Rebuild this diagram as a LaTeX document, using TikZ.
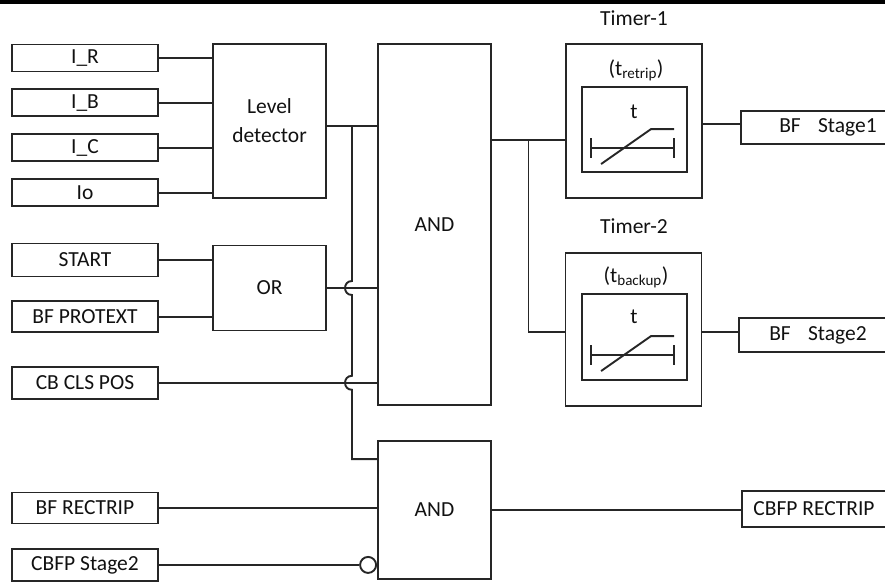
\documentclass[tikz,border=0pt]{standalone}
\usepackage{fontspec}
\setmainfont{Carlito}
\usetikzlibrary{positioning,calc}
\definecolor{bfink}{HTML}{111111}
\definecolor{bfline}{HTML}{262626}

\begin{document}
\begin{tikzpicture}[x=1pt,y=-1pt,
  node distance=16pt,
  every node/.style={font=\fontsize{21.5}{29}\selectfont,text=bfink},
  I/.style={draw=bfline,line width=1.9pt,minimum width=146pt,
            minimum height=#1,inner sep=0pt},
  I/.default=27pt,
  G/.style={draw=bfline,line width=1.9pt,minimum width=113pt,
            inner sep=0pt,align=center},
  T/.style={draw=bfline,line width=1.9pt,minimum width=136pt,
            minimum height=154pt,inner sep=0pt},
  Ti/.style={draw=bfline,line width=1.9pt,minimum width=105pt,
             minimum height=85pt,inner sep=0pt},
  O/.style={draw=bfline,line width=1.9pt,inner sep=0pt},
  ln/.style={line width=1.9pt,bfline}
]
\useasboundingbox (0,0) rectangle (885,581);
\clip (0,0) rectangle (885,581);
\fill[black] (0,0) rectangle (885,3.5);

% inputs
\node[I] (IR) at (85,58) {I\_R};
\node[I,below=of IR] (IB) {I\_B};
\node[I,below=of IB] (IC) {I\_C};
\node[I,below=of IC] (Io) {Io};
\node[I=33pt] (ST) at (85,260) {START};
\node[I=31pt,below=23pt of ST] (BFP) {BF PROTEXT};
\node[I=32pt,below=32.5pt of BFP] (CLS) {CB CLS POS};
\node[I=31pt] (BFR) at (85,508) {BF RECTRIP};
\node[I=32pt,below=23.5pt of BFR] (CB2) {CBFP Stage2};

% logic
\node[G,minimum height=154pt] (LD) at (269.5,121) {Level\\detector};
\node[G,minimum height=85pt] (OR) at (269.5,288) {OR};
\node[G,minimum height=361pt] (A1) at (434.5,224.5) {AND};
\node[G,minimum height=138pt] (A2) at (434.5,510) {AND};
\node[circle,draw=bfline,line width=1.9pt,minimum size=16pt,
      inner sep=0pt,anchor=east] (neg) at (A2.west |- CB2.east) {};

% timers
\node (T1n) at (634,18) {Timer-1};
\node[T] (T1) at (634,121) {};
\node (T1s) at (636,70) {(t\textsubscript{retrip})};
\node[Ti] (T1i) at (634.5,129.5) {};
\node (T1t) at (634,112) {t};
\node (T2n) at (634,226) {Timer-2};
\node[T,minimum height=153pt] (T2) at (633.5,329.5) {};
\node (T2s) at (636,277) {(t\textsubscript{backup})};
\node[Ti,minimum height=86pt] (T2i) at (634.5,337) {};
\node (T2t) at (634,317) {t};

% outputs
\node[O,minimum width=174pt,minimum height=33pt] (S1) at (828,127.5)
     {BF\hspace{0.8em}Stage1};
\node[O,minimum width=158pt,minimum height=34pt] (S2) at (818,335)
     {BF\hspace{0.8em}Stage2};
\node[O,minimum width=144pt,minimum height=36pt] (CR) at (814,509)
     {CBFP RECTRIP};

% timer curves
\foreach \b in {T1i,T2i}{
  \draw[ln] ($(\b.north west)+(10,52)$) -- +(0,20);
  \draw[ln] ($(\b.north west)+(93,52)$) -- +(0,20);
  \draw[ln] ($(\b.north west)+(10,62)$) -- +(83,0);
  \draw[ln] ($(\b.north west)+(20,78)$) -- ($(\b.north west)+(70,43)$)
            -- +(23,0);
}

% wiring
\foreach \n in {IR,IB,IC,Io} \draw[ln] (\n.east) -- (\n.east -| LD.west);
\foreach \n in {ST,BFP} \draw[ln] (\n.east) -- (\n.east -| OR.west);
\draw[ln] (OR.east) -- (OR.east -| A1.west);
\draw[ln] (CLS.east) -- (CLS.east -| A1.west);
\draw[ln] (BFR.east) -- (BFR.east -| A2.west);
\draw[ln] (CB2.east) -- (neg);

\coordinate (ldo) at ([yshift=-5pt]LD.east);
\draw[ln] (ldo) -- (ldo -| A1.west);
\coordinate (jn) at ($(ldo)!0.5!(ldo -| A1.west)$);
\coordinate (hA) at (jn |- OR.east);
\coordinate (hB) at (jn |- CLS.east);
\coordinate (j2) at ([yshift=-19pt]A2.north west);
\draw[ln] (jn) -- ([yshift=7pt]hA)
  .. controls +(-9.3,0) and +(-9.3,0) .. ([yshift=-7pt]hA)
  -- ([yshift=7pt]hB)
  .. controls +(-9.3,0) and +(-9.3,0) .. ([yshift=-7pt]hB) |- (j2);

\coordinate (t1i) at ([yshift=-19pt]T1.west);
\draw[ln] (A1.east |- t1i) -- (t1i);
\coordinate (jt) at ($(A1.east |- t1i)!0.5!(t1i)$);
\coordinate (t2i) at ([yshift=-2.5pt]T2.west);
\draw[ln] (jt) |- (t2i);
\coordinate (t1o) at ([yshift=-3pt]T1.east);
\draw[ln] (t1o) -- (t1o -| S1.west);
\coordinate (t2o) at ([yshift=-2.5pt]T2.east);
\draw[ln] (t2o) -- (t2o -| S2.west);
\draw[ln] (A2.east) -- (A2.east -| CR.west);
\end{tikzpicture}
\end{document}
